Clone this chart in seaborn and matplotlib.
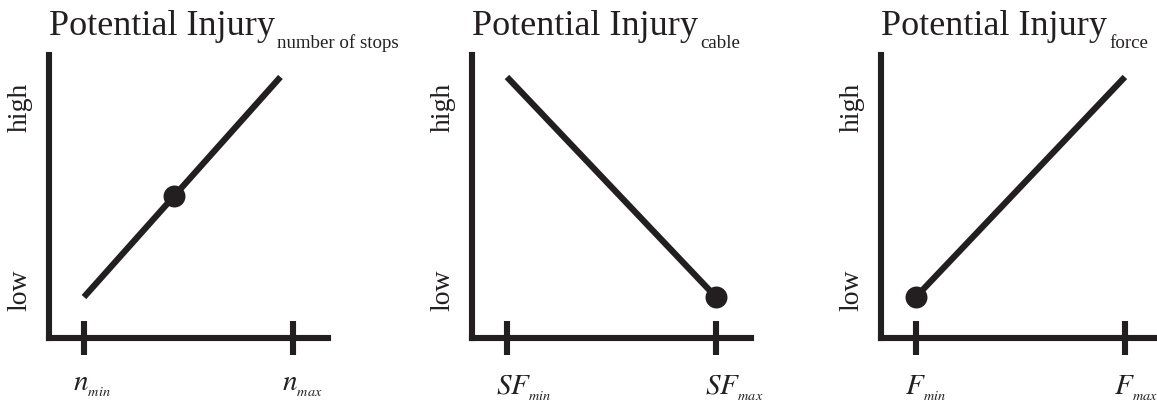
import numpy as np
import pandas as pd
import matplotlib
matplotlib.use('Agg')
from matplotlib import pyplot as plt
import matplotlib.transforms as mtransforms
import seaborn as sns

# panel texts
titles = ['Potential Injury', 'Potential Injury', 'Potential Injury']
subscripts = ['number of stops', 'cable', 'force']
xtick_labels = [
    [r'$n_{_{min}}$', r'$n_{_{max}}$'],
    [r'$SF_{_{min}}$', r'$SF_{_{max}}$'],
    [r'$F_{_{min}}$', r'$F_{_{max}}$'],
]
ytick_labels = ['low', 'high']
ytick_pos = [0.03, 0.86]

# line end points (x from min to max, y low to high)
line_x = [[0.0, 0.94], [0.0, 1.0], [0.0, 1.0]]
line_y = [[0.0, 1.0], [1.0, 0.0], [0.0, 1.0]]
# current point marker
dot_x = [0.43, 1.0, 0.0]
dot_y = [0.46, 0.0, 0.0]

INK = '#231f20'

sns.set_theme(style='white')
plt.rcParams['font.family'] = ['Liberation Serif', 'DejaVu Serif']
plt.rcParams['mathtext.fontset'] = 'stix'

fig = plt.figure(figsize=(11.57, 4.04), dpi=100)
lefts = [0.0424, 0.4080, 0.7614]

for i in range(3):
    ax = fig.add_axes([lefts[i], 0.1634, 0.241, 0.7005])
    ax.set_facecolor('white')

    df = pd.DataFrame({'x': line_x[i], 'y': line_y[i]})
    sns.lineplot(data=df, x='x', y='y', ax=ax, color=INK, linewidth=4.5,
                 solid_capstyle='butt')
    sns.scatterplot(x=[dot_x[i]], y=[dot_y[i]], ax=ax, color=INK, s=250,
                    edgecolor=INK, linewidth=0, zorder=5)

    ax.set_xlim(-0.167, 1.167)
    ax.set_ylim(-0.186, 1.10)
    ax.set_xlabel('')
    ax.set_ylabel('')

    for side in ['top', 'right']:
        ax.spines[side].set_visible(False)
    for side in ['left', 'bottom']:
        ax.spines[side].set_color(INK)
        ax.spines[side].set_linewidth(4.4)
        ax.spines[side].set_capstyle('projecting')

    ax.set_xticks([0, 1])
    ax.set_xticklabels(xtick_labels[i], fontsize=21, color=INK, ha='left')
    ax.tick_params(axis='x', direction='inout', length=24.5, width=4.4,
                   color=INK, pad=13, bottom=True)
    offset = mtransforms.ScaledTranslation(-11 / 100, 0, fig.dpi_scale_trans)
    for lbl in ax.get_xticklabels():
        lbl.set_transform(lbl.get_transform() + offset)

    ax.set_yticks(ytick_pos)
    ax.set_yticklabels(ytick_labels, fontsize=20, color=INK, rotation=90,
                       va='center')
    ax.tick_params(axis='y', length=0, pad=12, left=True)

    t = ax.set_title(titles[i], loc='left', fontsize=26, pad=14.4, color=INK)
    ax.annotate(subscripts[i], xy=(1, 0), xycoords=t, xytext=(2, -5),
                textcoords='offset pixels', ha='left', va='baseline',
                fontsize=13.6, color=INK, annotation_clip=False)

plt.savefig('out.png', dpi=100)
